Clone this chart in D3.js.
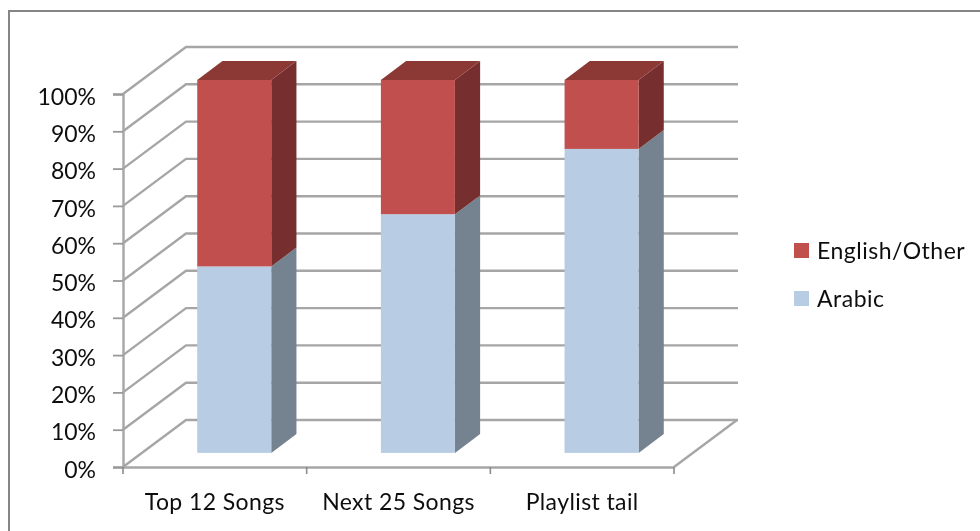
<!DOCTYPE html>
<html>
<head>
<meta charset="utf-8">
<script src="https://cdn.jsdelivr.net/npm/d3@7"></script>
<style>
html, body { margin: 0; padding: 0; background: #fff; overflow: hidden; }
text { font-family: Lato, "Open Sans", sans-serif; fill: #111; }
</style>
</head>
<body>
<div id="chart"></div>
<script>
var categories = ["Top 12 Songs", "Next 25 Songs", "Playlist tail"];
var arabic = [50, 64, 81.5];
var english = [50, 36, 18.5];
var yTicks = [0, 10, 20, 30, 40, 50, 60, 70, 80, 90, 100];
var legendLabels = ["English/Other", "Arabic"];

var width = 980, height = 531;
var margin = {left: 123, right: 306, top: 94, bottom: 64};
var depth = {x: 63, y: -47};          // floor depth of the 3d box
var barFront = 0.3, barBack = 0.7;    // how far into the box the bars stand

var svg = d3.select("#chart").append("svg")
    .attr("width", width)
    .attr("height", height);

svg.append("defs").append("filter")
    .attr("id", "soft")
    .append("feGaussianBlur")
    .attr("stdDeviation", 0.5);

var root = svg.append("g").attr("filter", "url(#soft)");

var xScale = d3.scaleBand()
    .domain(categories)
    .range([margin.left, width - margin.right]);

var yScale = d3.scaleLinear()
    .domain([0, 100])
    .range([height - margin.bottom, margin.top]);

var barWidth = xScale.bandwidth() * 0.403;
var gridColor = "#a6a6a6";

// project a point into the depth of the box, t goes 0 to 1
function px(x, t) { return x + depth.x * t; }
function py(y, t) { return y + depth.y * t; }
function pts(a) { return a.map(function(p){ return p.join(","); }).join(" "); }

// outer frame
root.append("path")
    .attr("d", "M9,531V11H980")
    .attr("fill", "none")
    .attr("stroke", "#858585")
    .attr("stroke-width", 2);

// gridlines: side wall then back wall
var right = width - margin.right;
root.selectAll(".grid")
    .data(yTicks)
    .enter()
    .append("polyline")
    .attr("class", "grid")
    .attr("fill", "none")
    .attr("stroke", gridColor)
    .attr("stroke-width", 2.4)
    .attr("points", function(d){
        return pts([
            [margin.left, yScale(d)],
            [px(margin.left, 1), py(yScale(d), 1)],
            [px(right, 1) + 1, py(yScale(d), 1)]
        ]);
    });

// floor edge on the right
root.append("line")
    .attr("x1", right)
    .attr("y1", yScale(0))
    .attr("x2", px(right, 1))
    .attr("y2", py(yScale(0), 1))
    .attr("stroke", gridColor)
    .attr("stroke-width", 2.4);

// y axis
var yAxis = root.append("g")
    .attr("transform", "translate(" + margin.left + ",0)")
    .call(d3.axisLeft(yScale)
        .tickValues(yTicks)
        .tickSize(10)
        .tickPadding(17)
        .tickFormat(function(d){ return d + "%"; }));
yAxis.selectAll("line").attr("stroke", "#999").attr("stroke-width", 1.8);
yAxis.select(".domain").attr("stroke", gridColor).attr("stroke-width", 2.4);
yAxis.selectAll("text")
    .style("font-size", "23px")
    .attr("dy", "0.66em")
    .attr("y", -5);

// x axis, the ticks sit on the band edges
var xAxis = root.append("g")
    .attr("transform", "translate(0," + yScale(0) + ")")
    .call(d3.axisBottom(xScale).tickSize(0).tickPadding(27));
xAxis.select(".domain").attr("stroke", gridColor).attr("stroke-width", 2.4);
xAxis.selectAll("text")
    .style("font-size", "23px")
    .style("letter-spacing", "0.4px");
xAxis.selectAll(".edge")
    .data(d3.range(categories.length + 1))
    .enter()
    .append("line")
    .attr("class", "edge")
    .attr("x1", function(i){ return margin.left + i * xScale.step(); })
    .attr("x2", function(i){ return margin.left + i * xScale.step(); })
    .attr("y1", 0)
    .attr("y2", 7)
    .attr("stroke", "#8c8c8c")
    .attr("stroke-width", 1.6);

// stacked 3d bars
var stacks = [
    {values: arabic, base: function(i){ return 0; }, front: "#b8cce4", side: "#74828f", top: null},
    {values: english, base: function(i){ return arabic[i]; }, front: "#c0504d", side: "#772f2d", top: "#8c3836"}
];

stacks.forEach(function(s){
    var bars = root.append("g").selectAll("g")
        .data(categories)
        .enter()
        .append("g");

    function left(d){ return px(xScale(d) + (xScale.bandwidth() - barWidth) / 2, barFront) + 0.5; }
    function lowY(d, i){ return py(yScale(s.base(i)), barFront); }
    function highY(d, i){ return py(yScale(s.base(i) + s.values[i]), barFront); }
    var dx = depth.x * (barBack - barFront), dy = depth.y * (barBack - barFront);

    bars.append("polygon")
        .attr("fill", s.side)
        .attr("points", function(d, i){
            var r = left(d) + barWidth;
            return pts([[r, lowY(d, i)], [r + dx, lowY(d, i) + dy], [r + dx, highY(d, i) + dy], [r, highY(d, i)]]);
        });

    bars.append("rect")
        .attr("fill", s.front)
        .attr("x", left)
        .attr("y", highY)
        .attr("width", barWidth)
        .attr("height", function(d, i){ return lowY(d, i) - highY(d, i); });

    if (s.top) {
        bars.append("polygon")
            .attr("fill", s.top)
            .attr("points", function(d, i){
                var l = left(d), y = highY(d, i);
                return pts([[l, y], [l + dx, y + dy], [l + barWidth + dx, y + dy], [l + barWidth, y]]);
            });
    }
});

// legend
var legendColor = d3.scaleOrdinal().domain(legendLabels).range(["#c0504d", "#b8cce4"]);
var legendY = d3.scalePoint().domain(legendLabels).range([243, 291]);

var legend = root.selectAll(".legend")
    .data(legendLabels)
    .enter()
    .append("g")
    .attr("class", "legend")
    .attr("transform", function(d){ return "translate(794," + legendY(d) + ")"; });

legend.append("rect")
    .attr("width", 15)
    .attr("height", 15)
    .attr("fill", function(d){ return legendColor(d); });

legend.append("text")
    .attr("x", 23)
    .attr("y", 16)
    .style("font-size", "23px")
    .style("letter-spacing", "0.5px")
    .text(function(d){ return d; });
</script>
</body>
</html>
